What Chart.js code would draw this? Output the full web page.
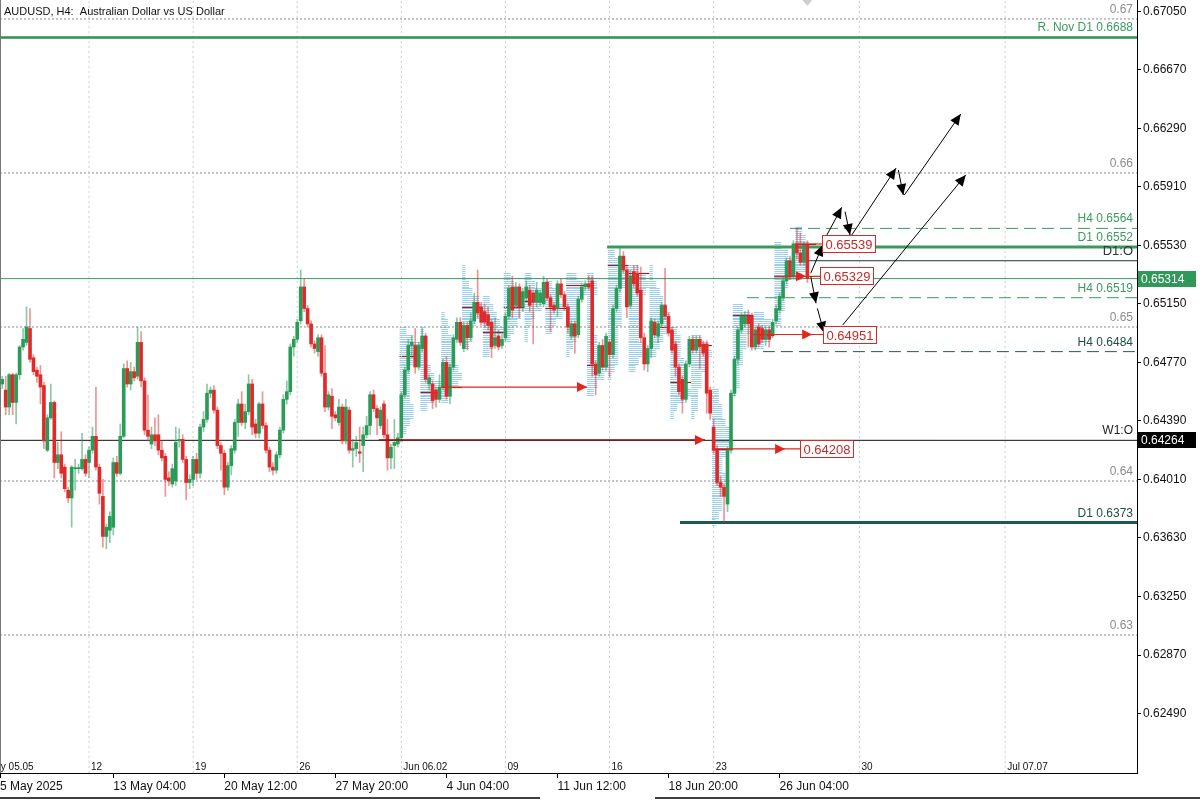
<!DOCTYPE html>
<html>
<head>
<meta charset="utf-8">
<title>AUDUSD H4</title>
<script src="https://cdn.jsdelivr.net/npm/chart.js@4.4.1/dist/chart.umd.min.js"></script>
<style>
  html, body { margin: 0; padding: 0; background: #fff; }
  #wrap { width: 1200px; height: 800px; position: relative; }
</style>
</head>
<body>
<div id="wrap"><canvas id="chart" width="1200" height="800"></canvas></div>
<script>
// H4 bars, index 0 = Mon 5 May 00:00 (30 bars per trading week)
const firstBar = 5;
const opens = [
  0.6463,0.6459,0.6448,0.6469,0.6451,0.6469,0.6487,0.6490,0.6499,0.6480,
  0.6472,0.6469,0.6462,0.6420,0.6441,0.6451,0.6412,0.6417,0.6409,0.6394,
  0.6389,0.6408,0.6408,0.6408,0.6414,0.6412,0.6420,0.6429,0.6409,0.6390,
  0.6364,0.6368,0.6370,0.6412,0.6405,0.6429,0.6473,0.6463,0.6471,0.6468,
  0.6490,0.6465,0.6433,0.6424,0.6430,0.6430,0.6420,0.6416,0.6402,0.6398,
  0.6400,0.6426,0.6427,0.6414,0.6399,0.6401,0.6414,0.6405,0.6435,0.6440,
  0.6457,0.6459,0.6446,0.6423,0.6418,0.6396,0.6410,0.6420,0.6438,0.6450,
  0.6438,0.6445,0.6463,0.6437,0.6431,0.6450,0.6436,0.6420,0.6409,0.6407,
  0.6417,0.6433,0.6453,0.6458,0.6487,0.6492,0.6504,0.6526,0.6512,0.6502,
  0.6489,0.6484,0.6493,0.6470,0.6448,0.6455,0.6443,0.6438,0.6448,0.6426,
  0.6446,0.6420,0.6421,0.6419,0.6423,0.6430,0.6436,0.6456,0.6447,0.6436,
  0.6450,0.6430,0.6415,0.6423,0.6424,0.6428,0.6456,0.6472,0.6488,0.6488,
  0.6474,0.6486,0.6494,0.6463,0.6463,0.6459,0.6453,0.6461,0.6477,0.6455,
  0.6474,0.6492,0.6503,0.6486,0.6501,0.6493,0.6504,0.6516,0.6513,0.6510,
  0.6508,0.6503,0.6488,0.6494,0.6488,0.6493,0.6507,0.6526,0.6514,0.6526,
  0.6513,0.6519,0.6524,0.6522,0.6516,0.6516,0.6515,0.6529,0.6519,0.6514,
  0.6512,0.6528,0.6521,0.6513,0.6494,0.6502,0.6495,0.6518,0.6526,0.6528,
  0.6530,0.6476,0.6470,0.6488,0.6474,0.6490,0.6482,0.6512,0.6525,0.6546,
  0.6537,0.6514,0.6536,0.6535,0.6524,0.6493,0.6476,0.6486,0.6503,0.6494,
  0.6502,0.6514,0.6507,0.6498,0.6489,0.6474,0.6466,0.6453,0.6476,0.6492,
  0.6485,0.6492,0.6489,0.6489,0.6459,0.6435,0.6420,0.6399,0.6396,0.6385,
  0.6420,0.6457,0.6479,0.6498,0.6502,0.6507,0.6507,0.6487,0.6500,0.6499,
  0.6492,0.6498,0.6495,0.6504,0.6511,0.6519,0.6530,0.6543,0.6533,0.6554,
  0.6548,0.6542,0.6553
];
const highs = [
  0.6468,0.6468,0.6470,0.6470,0.6470,0.6488,0.6499,0.6513,0.6512,0.6482,
  0.6474,0.6475,0.6464,0.6443,0.6463,0.6452,0.6425,0.6432,0.6411,0.6396,
  0.6410,0.6414,0.6411,0.6431,0.6417,0.6422,0.6435,0.6461,0.6411,0.6401,
  0.6372,0.6380,0.6415,0.6416,0.6437,0.6476,0.6478,0.6477,0.6474,0.6500,
  0.6497,0.6467,0.6456,0.6435,0.6441,0.6443,0.6426,0.6418,0.6406,0.6411,
  0.6435,0.6434,0.6430,0.6416,0.6404,0.6416,0.6418,0.6437,0.6445,0.6463,
  0.6461,0.6462,0.6448,0.6425,0.6420,0.6412,0.6423,0.6440,0.6453,0.6458,
  0.6450,0.6469,0.6466,0.6440,0.6451,0.6458,0.6438,0.6422,0.6412,0.6419,
  0.6435,0.6456,0.6465,0.6489,0.6494,0.6505,0.6537,0.6531,0.6514,0.6504,
  0.6491,0.6495,0.6495,0.6488,0.6458,0.6460,0.6445,0.6453,0.6450,0.6453,
  0.6448,0.6427,0.6429,0.6435,0.6435,0.6442,0.6458,0.6459,0.6449,0.6448,
  0.6452,0.6440,0.6424,0.6440,0.6431,0.6458,0.6474,0.6492,0.6494,0.6499,
  0.6490,0.6499,0.6496,0.6469,0.6465,0.6461,0.6469,0.6479,0.6481,0.6476,
  0.6495,0.6506,0.6506,0.6503,0.6503,0.6509,0.6522,0.6537,0.6516,0.6515,
  0.6513,0.6505,0.6506,0.6498,0.6495,0.6509,0.6527,0.6533,0.6529,0.6528,
  0.6525,0.6530,0.6527,0.6524,0.6529,0.6524,0.6533,0.6531,0.6521,0.6516,
  0.6530,0.6531,0.6523,0.6515,0.6504,0.6504,0.6520,0.6528,0.6530,0.6533,
  0.6533,0.6478,0.6490,0.6492,0.6496,0.6492,0.6514,0.6527,0.6551,0.6549,
  0.6539,0.6537,0.6540,0.6540,0.6539,0.6496,0.6488,0.6506,0.6505,0.6504,
  0.6516,0.6538,0.6509,0.6500,0.6491,0.6476,0.6468,0.6478,0.6494,0.6494,
  0.6494,0.6494,0.6491,0.6491,0.6461,0.6440,0.6423,0.6403,0.6398,0.6422,
  0.6459,0.6481,0.6500,0.6509,0.6510,0.6511,0.6509,0.6500,0.6502,0.6501,
  0.6500,0.6500,0.6505,0.6514,0.6522,0.6532,0.6545,0.6546,0.6556,0.6564,
  0.6561,0.6555,0.6556
];
const lows = [
  0.6460,0.6443,0.6443,0.6443,0.6437,0.6466,0.6485,0.6488,0.6477,0.6469,
  0.6464,0.6450,0.6421,0.6419,0.6440,0.6402,0.6408,0.6402,0.6393,0.6386,
  0.6370,0.6394,0.6405,0.6407,0.6403,0.6402,0.6418,0.6407,0.6385,0.6357,
  0.6356,0.6360,0.6365,0.6403,0.6404,0.6428,0.6461,0.6459,0.6465,0.6466,
  0.6461,0.6430,0.6426,0.6421,0.6423,0.6417,0.6413,0.6390,0.6397,0.6396,
  0.6397,0.6422,0.6412,0.6388,0.6395,0.6397,0.6401,0.6402,0.6432,0.6438,
  0.6454,0.6444,0.6421,0.6407,0.6391,0.6394,0.6404,0.6418,0.6429,0.6436,
  0.6434,0.6443,0.6430,0.6428,0.6428,0.6434,0.6418,0.6406,0.6404,0.6405,
  0.6415,0.6431,0.6450,0.6456,0.6481,0.6490,0.6502,0.6510,0.6500,0.6487,
  0.6483,0.6481,0.6468,0.6445,0.6446,0.6434,0.6439,0.6436,0.6424,0.6424,
  0.6418,0.6409,0.6416,0.6412,0.6406,0.6428,0.6430,0.6445,0.6430,0.6434,
  0.6428,0.6407,0.6408,0.6408,0.6422,0.6426,0.6454,0.6470,0.6480,0.6470,
  0.6472,0.6484,0.6464,0.6459,0.6447,0.6448,0.6451,0.6459,0.6453,0.6450,
  0.6472,0.6490,0.6488,0.6484,0.6485,0.6491,0.6502,0.6506,0.6501,0.6500,
  0.6498,0.6480,0.6486,0.6485,0.6486,0.6491,0.6505,0.6506,0.6512,0.6506,
  0.6510,0.6517,0.6510,0.6489,0.6513,0.6514,0.6513,0.6517,0.6497,0.6509,
  0.6507,0.6519,0.6511,0.6496,0.6492,0.6483,0.6493,0.6516,0.6524,0.6524,
  0.6468,0.6456,0.6468,0.6472,0.6472,0.6468,0.6480,0.6510,0.6523,0.6535,
  0.6506,0.6512,0.6526,0.6520,0.6490,0.6472,0.6471,0.6480,0.6493,0.6490,
  0.6500,0.6505,0.6494,0.6483,0.6468,0.6456,0.6444,0.6451,0.6474,0.6483,
  0.6483,0.6473,0.6481,0.6444,0.6440,0.6418,0.6397,0.6390,0.6373,0.6380,
  0.6418,0.6455,0.6476,0.6496,0.6500,0.6487,0.6485,0.6485,0.6487,0.6490,
  0.6488,0.6487,0.6493,0.6502,0.6509,0.6517,0.6528,0.6531,0.6531,0.6544,
  0.6540,0.6540,0.6529
];
const closes = [
  0.6466,0.6448,0.6469,0.6451,0.6469,0.6487,0.6492,0.6500,0.6479,0.6471,
  0.6468,0.6461,0.6426,0.6441,0.6451,0.6412,0.6417,0.6405,0.6395,0.6389,
  0.6409,0.6408,0.6408,0.6414,0.6405,0.6420,0.6429,0.6409,0.6392,0.6364,
  0.6370,0.6377,0.6412,0.6405,0.6429,0.6473,0.6463,0.6471,0.6467,0.6490,
  0.6465,0.6433,0.6429,0.6430,0.6426,0.6420,0.6415,0.6401,0.6400,0.6408,
  0.6425,0.6427,0.6414,0.6399,0.6401,0.6414,0.6405,0.6435,0.6440,0.6457,
  0.6459,0.6446,0.6423,0.6418,0.6396,0.6410,0.6421,0.6438,0.6450,0.6438,
  0.6445,0.6463,0.6435,0.6431,0.6450,0.6436,0.6420,0.6409,0.6407,0.6417,
  0.6433,0.6453,0.6458,0.6487,0.6492,0.6503,0.6526,0.6512,0.6502,0.6489,
  0.6486,0.6493,0.6470,0.6448,0.6456,0.6442,0.6441,0.6448,0.6426,0.6448,
  0.6420,0.6421,0.6425,0.6418,0.6430,0.6436,0.6456,0.6447,0.6441,0.6446,
  0.6430,0.6415,0.6422,0.6425,0.6428,0.6456,0.6472,0.6488,0.6490,0.6474,
  0.6488,0.6494,0.6466,0.6467,0.6452,0.6453,0.6461,0.6477,0.6455,0.6474,
  0.6493,0.6503,0.6490,0.6501,0.6493,0.6504,0.6516,0.6509,0.6503,0.6503,
  0.6501,0.6487,0.6493,0.6487,0.6492,0.6507,0.6525,0.6511,0.6526,0.6513,
  0.6523,0.6526,0.6514,0.6516,0.6524,0.6522,0.6529,0.6519,0.6513,0.6511,
  0.6528,0.6521,0.6513,0.6500,0.6502,0.6494,0.6518,0.6526,0.6528,0.6526,
  0.6476,0.6469,0.6488,0.6474,0.6494,0.6482,0.6512,0.6525,0.6546,0.6537,
  0.6513,0.6533,0.6528,0.6522,0.6493,0.6476,0.6486,0.6504,0.6495,0.6502,
  0.6514,0.6507,0.6496,0.6485,0.6474,0.6458,0.6453,0.6476,0.6492,0.6485,
  0.6492,0.6487,0.6483,0.6457,0.6444,0.6420,0.6399,0.6396,0.6390,0.6420,
  0.6457,0.6479,0.6498,0.6507,0.6507,0.6502,0.6487,0.6498,0.6489,0.6492,
  0.6498,0.6492,0.6503,0.6512,0.6520,0.6530,0.6543,0.6533,0.6554,0.6548,
  0.6542,0.6553,0.65314
];

// axes
const xMin = 4.35, xMax = 332;
const yMin = 0.62104, yMax = 0.67123;
const priceTicks = [0.6249,0.6287,0.6325,0.6363,0.6401,0.6439,0.6477,0.6515,0.6553,0.6591,0.6629,0.6667,0.6705];
const timeTicks = [4.35, 37, 69, 101, 133, 165, 197, 229];
const timeLabels = ["5 May 2025","13 May 04:00","20 May 12:00","27 May 20:00","4 Jun 04:00","11 Jun 12:00","18 Jun 20:00","26 Jun 04:00"];
const weekStarts = [0, 30, 60, 90, 120, 150, 180, 210, 252, 294];
const weekLabels = ["May 05.05","12","19","26","Jun 06.02","09","16","23","30","Jul 07.07"];
const roundLevels = [0.67, 0.66, 0.65, 0.64, 0.63];
const roundLabels = ["0.67","0.66","0.65","0.64","0.63"];

// key levels
const levelNames = ["R. Nov D1 0.6688","H4 0.6564","D1 0.6552","D1:O","H4 0.6519","H4 0.6484","W1:O","D1 0.6373"];
const levelPrices = [0.6688, 0.6564, 0.6552, 0.6543, 0.6519, 0.6484, 0.64264, 0.6373];
const levelFrom = [xMin, 232, 179.3, 236.9, 219.6, 224.2, xMin, 200.3];
const bidPrice = closes[closes.length - 1];

// daily volume profiles (lengths in bars, rows of profileStep)
const profileStep = 0.0005;
const profileStart = [120,126,132,138,144,150,156,162,168,174,180,186,192,198,204,210,216,222,228,234];
const profileBase = [0.6425,0.6445,0.6450,0.6485,0.6480,0.6490,0.6490,0.6495,0.6480,0.6455,0.6465,0.6470,0.6480,0.6440,0.6440,0.6370,0.6455,0.6485,0.6500,0.6530];
const profileLengths = [
  [1,2,3,4,4,3,3,3,3,3,4,5,6,4,2],
  [2,4,5,6,4,3,2,2,2,2,1],
  [2,3,5,6,5,4,3,3,3,2,2,1],
  [2,3,3,4,5,6,5,3,2,1,1],
  [2,3,5,6,5,4,3,2],
  [2,3,4,5,6,5,4,3,2],
  [1,1,2,3,5,6,5,3,2],
  [2,3,5,6,4,3,2],
  [1,2,3,3,3,3,4,4,6,5,3],
  [2,3,5,6,5,4,3,3,2,2,2,2,2,3,3,2],
  [1,2,3,3,3,3,3,4,4,4,4,4,5,5,6,4,2],
  [2,3,4,4,3,3,3,3,4,4,5,6,5,3],
  [2,3,4,5,6,6,5,4,3,2,1,1],
  [1,2,4,6,5,4,4,4,3,3,3,2],
  [1,2,2,2,3,3,4,5,6,5,3],
  [1,2,3,3,4,4,4,3,3,4,5,6,5,4,3,3,2,2],
  [1,2,2,2,3,3,4,4,5,6,5,3],
  [3,5,6,5,3],
  [2,2,3,3,3,4,5,6,5,4,2],
  [2,3,4,4,4,3,2]
];
const profilePoc = [0.6481,0.6458,0.6461,0.6513,0.6497,0.6513,0.6517,0.6512,0.6527,0.6475,0.6540,0.6535,0.6500,0.6464,0.6488,0.64208,0.6508,0.64951,0.65329,0.65539];

// naked POC rays
const rayFrom = [113.5, 131.5, 209.5, 221.5, 227.5, 233.5];
const rayPrice = [0.64266, 0.6461, 0.64208, 0.64951, 0.65329, 0.65539];
const rayTip = [207.5, 173.5, 230.6, 238.4, 236.6, null];
const rayBox = [null, null, 234.9, 241.5, 240.7, 241.2];
const rayText = ["", "", "0.64208", "0.64951", "0.65329", "0.65539"];

// scenario arrows
const arrowX1 = [237.98, 241.61, 247.87, 249.80, 263.23, 264.96, 237.98, 239.88, 247.20];
const arrowP1 = [0.65349, 0.65554, 0.65749, 0.65597, 0.66019, 0.65857, 0.65327, 0.65121, 0.65013];
const arrowX2 = [241.44, 246.92, 249.31, 262.56, 264.67, 281.21, 239.51, 241.82, 282.65];
const arrowP2 = [0.65532, 0.65777, 0.65597, 0.66031, 0.65857, 0.66383, 0.65154, 0.64963, 0.65987];

const FONT = "'Liberation Sans', Arial, sans-serif";
const UP = "#2b9b58", DOWN = "#e02a2a";
const GREEN = "#3b9a5e", DARK = "#1f4d44";
const levelStyle = {
  "R. Nov D1 0.6688": { color: "#2f8f55", width: 2.5, dash: [], text: GREEN, size: 12 },
  "H4 0.6564": { color: "#3b9a5e", width: 1, dash: [12, 6], text: GREEN, size: 12 },
  "D1 0.6552": { color: "#3a9a5a", width: 3, dash: [], text: GREEN, size: 12 },
  "D1:O": { color: "#1d3535", width: 1, dash: [], text: "#2a3c3c", size: 13 },
  "H4 0.6519": { color: "#3b9a5e", width: 1, dash: [12, 6], text: GREEN, size: 12 },
  "H4 0.6484": { color: "#2c5d4c", width: 1, dash: [12, 6], text: DARK, size: 12 },
  "W1:O": { color: "#111111", width: 1, dash: [], text: "#222", size: 12 },
  "D1 0.6373": { color: "#1d5a50", width: 3, dash: [], text: DARK, size: 12 }
};

const upFlag = opens.map((o, k) => closes[k] >= o);
const wickData = opens.map((o, k) => ({ x: firstBar + k, y: [lows[k], highs[k]] }));
const bodyData = opens.map((o, k) => ({ x: firstBar + k, y: [o, closes[k]] }));

function hLine(from, to, p, color, width, dash, order) {
  return { type: "line", data: [{ x: from, y: p }, { x: to, y: p }], borderColor: color, borderWidth: width,
    borderDash: dash, pointRadius: 0, fill: false, order };
}

const datasets = [];
weekStarts.forEach((w) => {
  datasets.push({ type: "line", data: [{ x: w, y: yMin }, { x: w, y: yMax }], borderColor: "#cdcdcd",
    borderWidth: 1, borderDash: [2, 3], pointRadius: 0, order: 9 });
});
roundLevels.forEach((p) => datasets.push(hLine(xMin, xMax, p, "#8a8a8a", 1, [2, 2], 9)));
levelNames.forEach((name, k) => {
  const st = levelStyle[name];
  datasets.push(hLine(levelFrom[k], xMax, levelPrices[k], st.color, st.width, st.dash, 6));
});
datasets.push(hLine(xMin, xMax, bidPrice, "#3b9a5e", 1, [], 6));
rayFrom.forEach((f, k) => {
  const end = rayBox[k] != null ? rayBox[k] : rayTip[k];
  datasets.push(hLine(f, end, rayPrice[k], k === 0 ? "#8a1212" : "#e3241f", k === 0 ? 1.5 : 1.2, [], 1));
});
datasets.push({ type: "bar", data: wickData, grouped: false, barThickness: 1, order: 4,
  backgroundColor: (ctx) => (upFlag[ctx.dataIndex] ? "rgba(43,155,88,0.55)" : "rgba(224,42,42,0.5)") });
datasets.push({ type: "bar", data: bodyData, grouped: false, barThickness: 3, minBarLength: 1, order: 3,
  backgroundColor: (ctx) => (upFlag[ctx.dataIndex] ? UP : DOWN) });
arrowX1.forEach((x1, k) => {
  datasets.push({ type: "line", data: [{ x: x1, y: arrowP1[k] }, { x: arrowX2[k], y: arrowP2[k] }],
    borderColor: "#000", borderWidth: 1, pointRadius: 0, order: 0 });
});

function clipArea(ctx, a) {
  ctx.beginPath();
  ctx.rect(a.left, a.top, a.right - a.left, a.bottom - a.top);
  ctx.clip();
}

function drawProfiles(chart) {
  const { ctx, chartArea: a, scales: { x, y } } = chart;
  ctx.save();
  clipArea(ctx, a);
  ctx.lineWidth = 1;
  profileStart.forEach((start, d) => {
    const x0 = x.getPixelForValue(start - 0.5);
    const unit = x.getPixelForValue(start + 0.5) - x0;
    ctx.strokeStyle = "rgba(120,192,232,0.75)";
    ctx.beginPath();
    profileLengths[d].forEach((len, r) => {
      const pLow = profileBase[d] + r * profileStep;
      const yTop = y.getPixelForValue(pLow + profileStep);
      const yBot = y.getPixelForValue(pLow);
      for (let yy = Math.round(yTop) + 0.5; yy < yBot; yy += 2) {
        ctx.moveTo(x0, yy);
        ctx.lineTo(x0 + len * unit, yy);
      }
    });
    ctx.stroke();
    const yp = Math.round(y.getPixelForValue(profilePoc[d])) + 0.5;
    ctx.strokeStyle = "#9c1d1d";
    ctx.lineWidth = 1.2;
    ctx.beginPath();
    ctx.moveTo(x0, yp);
    ctx.lineTo(x0 + 6 * unit, yp);
    ctx.stroke();
    ctx.lineWidth = 1;
  });
  ctx.restore();
}

function arrowHead(ctx, x1, y1, x2, y2, len, half, color) {
  const ang = Math.atan2(y2 - y1, x2 - x1);
  const c = Math.cos(ang), s = Math.sin(ang);
  ctx.fillStyle = color;
  ctx.beginPath();
  ctx.moveTo(x2, y2);
  ctx.lineTo(x2 - len * c + half * s, y2 - len * s - half * c);
  ctx.lineTo(x2 - len * c - half * s, y2 - len * s + half * c);
  ctx.closePath();
  ctx.fill();
}

function drawOverlay(chart) {
  const { ctx, chartArea: a, scales: { x, y } } = chart;
  ctx.save();
  clipArea(ctx, a);

  // black scenario arrow heads
  arrowX1.forEach((x1, k) => {
    arrowHead(ctx, x.getPixelForValue(x1), y.getPixelForValue(arrowP1[k]),
      x.getPixelForValue(arrowX2[k]), y.getPixelForValue(arrowP2[k]), 11, 5, "#000");
  });

  // red rays: heads and boxes
  ctx.font = "13px " + FONT;
  ctx.textBaseline = "middle";
  ctx.textAlign = "left";
  rayFrom.forEach((f, k) => {
    const yp = y.getPixelForValue(rayPrice[k]);
    if (rayTip[k] != null) {
      const xt = x.getPixelForValue(rayTip[k]);
      arrowHead(ctx, xt - 20, yp, xt, yp, 10, 5, "#e3241f");
    }
    if (rayBox[k] != null) {
      const xb = Math.round(x.getPixelForValue(rayBox[k])) + 0.5;
      const w = ctx.measureText(rayText[k]).width + 6;
      ctx.fillStyle = "#fff";
      ctx.fillRect(xb, Math.round(yp) - 8.5, w, 17);
      ctx.strokeStyle = "#d42a2a";
      ctx.lineWidth = 1;
      ctx.strokeRect(xb, Math.round(yp) - 8.5, w, 17);
      ctx.fillStyle = "#c82828";
      ctx.fillText(rayText[k], xb + 3, Math.round(yp) + 1);
    }
  });

  // labels above the levels, right aligned
  ctx.textAlign = "right";
  ctx.textBaseline = "alphabetic";
  const xr = a.right - 4;
  ctx.font = "12px " + FONT;
  roundLevels.forEach((p, k) => {
    ctx.fillStyle = "#8c8c8c";
    ctx.fillText(roundLabels[k], xr, y.getPixelForValue(p) - 6);
  });
  levelNames.forEach((name, k) => {
    const st = levelStyle[name];
    ctx.font = st.size + "px " + FONT;
    ctx.fillStyle = st.text;
    ctx.fillText(name, xr, y.getPixelForValue(levelPrices[k]) - 6);
  });

  // week separator labels
  ctx.textAlign = "left";
  ctx.font = "10px " + FONT;
  ctx.fillStyle = "#111";
  weekStarts.forEach((w, k) => {
    ctx.fillText(weekLabels[k], x.getPixelForValue(w) + 2, a.bottom - 3);
  });

  // title
  ctx.font = "11px " + FONT;
  ctx.fillText("AUDUSD, H4:  Australian Dollar vs US Dollar", 4, 15);

  // chart shift marker
  const xs = x.getPixelForValue(firstBar + opens.length - 1);
  ctx.fillStyle = "#cfcfcf";
  ctx.beginPath();
  ctx.moveTo(xs - 5, 0); ctx.lineTo(xs + 5, 0); ctx.lineTo(xs, 6); ctx.closePath();
  ctx.fill();
  ctx.restore();

  // price boxes on the axis
  ctx.save();
  ctx.font = "12px " + FONT;
  ctx.textBaseline = "middle";
  ctx.textAlign = "left";
  [[bidPrice, "#2f9a58"], [levelPrices[6], "#000"]].forEach(([p, bg]) => {
    const yp = Math.round(y.getPixelForValue(p));
    ctx.fillStyle = bg;
    ctx.fillRect(a.right + 1, yp - 8, 58, 16);
    ctx.fillStyle = "#fff";
    ctx.fillText(p.toFixed(5), a.right + 4, yp + 1);
  });
  // scrollbar and left frame
  ctx.strokeStyle = "#000";
  ctx.lineWidth = 1.5;
  ctx.beginPath();
  ctx.moveTo(0, 798); ctx.lineTo(540, 798);
  ctx.moveTo(655, 798); ctx.lineTo(1200, 798);
  ctx.stroke();
  ctx.strokeStyle = "#777";
  ctx.lineWidth = 1;
  ctx.beginPath();
  ctx.moveTo(0.5, 0); ctx.lineTo(0.5, a.bottom);
  ctx.stroke();
  ctx.restore();
}

const decor = {
  id: "decor",
  beforeDatasetsDraw(chart) { drawProfiles(chart); },
  afterDatasetsDraw(chart) { drawOverlay(chart); }
};

new Chart(document.getElementById("chart"), {
  type: "bar",
  data: { datasets },
  options: {
    responsive: false,
    animation: false,
    events: [],
    layout: { padding: 0 },
    plugins: { legend: { display: false }, tooltip: { enabled: false } },
    scales: {
      x: {
        type: "linear", min: xMin, max: xMax, offset: false,
        grid: { drawOnChartArea: false, offset: false, tickLength: 5, color: "#000" },
        border: { display: true, color: "#000" },
        afterBuildTicks: (scale) => { scale.ticks = timeTicks.map((v) => ({ value: v })); },
        afterFit: (scale) => { scale.height = 27; scale.paddingLeft = 0; scale.paddingRight = 0; },
        ticks: {
          autoSkip: false, maxRotation: 0, align: "start", padding: 1, color: "#111",
          font: { family: FONT, size: 12 },
          callback: (v, i) => timeLabels[i]
        }
      },
      y: {
        type: "linear", position: "right", min: yMin, max: yMax,
        grid: { drawOnChartArea: false, tickLength: 4, color: "#000" },
        border: { display: true, color: "#000" },
        afterBuildTicks: (scale) => { scale.ticks = priceTicks.map((v) => ({ value: v })); },
        afterFit: (scale) => { scale.width = 63; scale.paddingTop = 0; scale.paddingBottom = 0; },
        ticks: {
          padding: 2, color: "#111", font: { family: FONT, size: 12 },
          callback: (v) => Number(v).toFixed(5)
        }
      }
    }
  },
  plugins: [decor]
});
</script>
</body>
</html>
